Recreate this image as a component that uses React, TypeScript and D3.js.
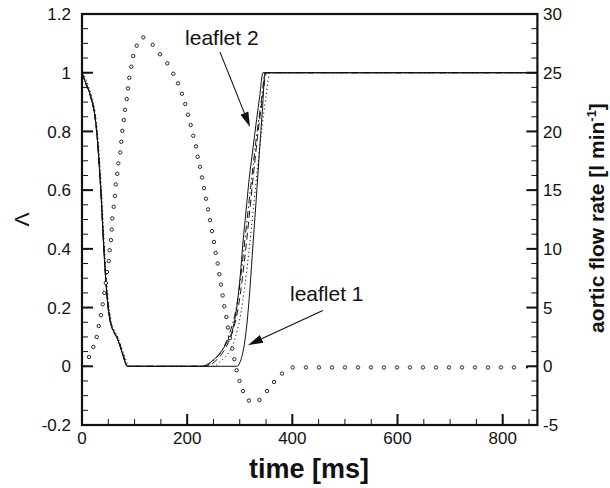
import React from "react";
import * as d3 from "d3";

// ---- axis ticks ----
const leftTicks = [-0.2, 0, 0.2, 0.4, 0.6, 0.8, 1, 1.2];
const leftTickLabels = ["-0.2", "0", "0.2", "0.4", "0.6", "0.8", "1", "1.2"];
const rightTicks = [-5, 0, 5, 10, 15, 20, 25, 30];
const rightTickLabels = ["-5", "0", "5", "10", "15", "20", "25", "30"];
const xTicks = [0, 200, 400, 600, 800];
const xTickLabels = ["0", "200", "400", "600", "800"];

// ---- Lambda curves: [time ms, Lambda] ----
const descentSolid: [number, number][] = [
  [0, 1], [5, 0.975], [12, 0.945], [18, 0.91], [24, 0.86], [29, 0.78], [33, 0.68],
  [37, 0.56], [41, 0.42], [45, 0.3], [49, 0.21], [54, 0.15], [60, 0.12], [67, 0.095],
  [74, 0.06], [80, 0.025], [86, 0],
];
const descentDashed: [number, number][] = [
  [0, 1], [5, 0.97], [12, 0.94], [18, 0.905], [24, 0.855], [29, 0.775], [33, 0.675],
  [37, 0.555], [41, 0.415], [45, 0.3], [49, 0.22], [53, 0.17], [57, 0.13], [62, 0.11],
  [67, 0.1], [74, 0.065], [81, 0.025], [87, 0],
];
const descentDotted: [number, number][] = [
  [0, 1], [7, 0.98], [13, 0.95], [19, 0.915], [25, 0.865], [30, 0.785], [34, 0.69],
  [38, 0.57], [42, 0.43], [46, 0.31], [50, 0.22], [55, 0.16], [61, 0.125], [68, 0.1],
  [75, 0.065], [82, 0.03], [89, 0],
];

const riseLeaflet2: [number, number][] = [
  [228, 0], [245, 0.015], [260, 0.04], [275, 0.08], [287, 0.13], [295, 0.21], [301, 0.31],
  [306, 0.42], [312, 0.53], [318, 0.64], [325, 0.74], [332, 0.84], [338, 0.92], [344, 1],
  [866, 1],
];
const riseLeaflet1: [number, number][] = [
  [295, 0], [300, 0.012], [305, 0.04], [310, 0.09], [315, 0.17], [320, 0.28], [325, 0.41],
  [331, 0.56], [337, 0.72], [343, 0.87], [348, 1], [866, 1],
];
const riseDashed: [number, number][] = [
  [238, 0], [252, 0.015], [265, 0.04], [278, 0.08], [290, 0.14], [298, 0.21], [305, 0.3],
  [312, 0.41], [319, 0.53], [327, 0.67], [335, 0.8], [343, 0.91], [351, 1], [866, 1],
];
const riseDashDot: [number, number][] = [
  [232, 0], [250, 0.02], [265, 0.05], [280, 0.11], [290, 0.17], [298, 0.25], [306, 0.37],
  [314, 0.5], [322, 0.63], [331, 0.77], [340, 0.89], [349, 1], [866, 1],
];
const riseDotted: [number, number][] = [
  [250, 0], [265, 0.02], [280, 0.05], [292, 0.1], [302, 0.18], [310, 0.28], [318, 0.4],
  [326, 0.54], [334, 0.68], [342, 0.81], [350, 0.92], [357, 1], [866, 1],
];

// ---- aortic flow rate symbols: [time ms, l/min] ----
const flowTime = [
  13.3, 21.5, 28.0, 31.8, 36.1, 39.4, 42.4, 45.3, 47.5, 50.8, 52.7, 55.1, 56.5, 57.6, 60.3,
  62.7, 64.1, 67.1, 69.0, 72.8, 74.7, 76.6, 79.3, 81.8, 85.0, 87.5, 89.9, 93.7, 97.5, 104.0,
  116.6, 134.4, 148.3, 162.2, 173.6, 182.5, 190.1, 196.4, 201.6, 206.7, 211.6, 216.8, 220.0,
  224.4, 228.2, 232.0, 235.8, 239.6, 243.4, 247.2, 251.0, 254.2, 258.0, 261.1, 264.3, 267.5,
  270.6, 274.4, 277.6, 281.4, 285.8, 289.6, 294.2, 299.5, 306.1, 317.5, 337.5, 351.8, 365.1,
  380.3, 400.6, 425.9, 450.6, 475.3, 500.1, 524.8, 549.5, 574.2, 599.0, 623.7, 648.4, 673.1,
  697.9, 722.6, 747.3, 772.0, 796.7, 821.5,
];
const flowRate = [
  0.79, 1.64, 2.5, 3.43, 4.35, 5.28, 6.25, 7.1, 8.03, 8.97, 9.88, 10.74, 11.65, 12.59, 13.58,
  14.51, 15.49, 16.39, 17.28, 18.21, 19.12, 20.05, 20.97, 21.84, 22.76, 23.67, 24.57, 25.51,
  26.42, 27.3, 28.01, 27.38, 26.57, 25.8, 24.91, 24.09, 23.21, 22.33, 21.42, 20.54, 19.63,
  18.73, 17.84, 16.99, 16.08, 15.17, 14.27, 13.36, 12.44, 11.51, 10.59, 9.66, 8.75, 7.84,
  6.96, 6.03, 5.11, 4.2, 3.3, 2.39, 1.51, 0.6, -0.34, -1.25, -2.11, -2.92, -2.87, -2.11,
  -1.34, -0.62, -0.1, -0.1, -0.1, -0.1, -0.1, -0.1, -0.1, -0.1, -0.1, -0.1, -0.1, -0.1,
  -0.1, -0.1, -0.1, -0.1, -0.1, -0.1,
];
const flowEnd: [number, number] = [846.2, -0.1];

const W = 610;
const H = 488;
const FONT = "'Liberation Sans', Arial, Helvetica, sans-serif";
const INK = "#111";

export default function App() {
  const x = d3.scaleLinear().domain([0, 866]).range([82, 537.4]);
  const yL = d3.scaleLinear().domain([-0.2, 1.2]).range([425, 14]);
  const yR = d3.scaleLinear().domain([-5, 30]).range([425, 14]);

  const line = d3
    .line<[number, number]>()
    .x((d) => x(d[0]))
    .y((d) => yL(d[1]))
    .curve(d3.curveMonotoneX);

  const curves = [
    { data: [...descentSolid, ...riseLeaflet2], dash: "none" },
    { data: [...descentSolid, ...riseLeaflet1], dash: "none" },
    { data: [...descentDashed, ...riseDashed], dash: "7,4" },
    { data: [...descentSolid, ...riseDashDot], dash: "7,3,1.5,3" },
    { data: [...descentDotted, ...riseDotted], dash: "1.2,2.8" },
  ];

  const leftMinor = d3.range(-0.2, 1.2001, 0.05);
  const rightMinor = d3.range(-5, 30.001, 1.25);
  const xMinor = d3.range(0, 866, 50);

  const [x0, x1] = x.range();
  const yTop = 14;
  const yBot = 425;

  const arrow = (t0: number, l0: number, t1: number, l1: number) => {
    const ax = x(t0), ay = yL(l0), bx = x(t1), by = yL(l1);
    const ang = Math.atan2(by - ay, bx - ax);
    const len = 15, hw = 4.2;
    const cx = bx - len * Math.cos(ang), cy = by - len * Math.sin(ang);
    const px = -Math.sin(ang) * hw, py = Math.cos(ang) * hw;
    return (
      <g>
        <line x1={ax} y1={ay} x2={cx} y2={cy} stroke={INK} strokeWidth={1.1} />
        <polygon
          points={`${bx},${by} ${cx + px},${cy + py} ${cx - px},${cy - py}`}
          fill={INK}
        />
      </g>
    );
  };

  return (
    <svg
      width={W}
      height={H}
      viewBox={`0 0 ${W} ${H}`}
      style={{ position: "absolute", left: 0, top: 0, background: "#fff" }}
      fontFamily={FONT}
    >
      <rect width={W} height={H} fill="#fff" />
      {/* curves */}
      {curves.map((c, i) => (
        <path
          key={i}
          d={line(c.data) || ""}
          fill="none"
          stroke={INK}
          strokeWidth={1}
          strokeDasharray={c.dash}
        />
      ))}
      {/* flow symbols */}
      {flowTime.map((t, i) => (
        <circle
          key={i}
          cx={x(t)}
          cy={yR(flowRate[i])}
          r={1.7}
          fill="#fff"
          stroke={INK}
          strokeWidth={0.9}
        />
      ))}
      <circle cx={x(flowEnd[0])} cy={yR(flowEnd[1])} r={1.1} fill={INK} />

      {/* ticks */}
      {leftMinor.map((v, i) => (
        <line key={"lm" + i} x1={x0} x2={x0 + 6} y1={yL(v)} y2={yL(v)} stroke={INK} strokeWidth={1} />
      ))}
      {leftTicks.map((v, i) => (
        <line key={"lt" + i} x1={x0} x2={x0 + 11} y1={yL(v)} y2={yL(v)} stroke={INK} strokeWidth={2} />
      ))}
      {rightMinor.map((v, i) => (
        <line key={"rm" + i} x1={x1} x2={x1 - 6} y1={yR(v)} y2={yR(v)} stroke={INK} strokeWidth={1} />
      ))}
      {rightTicks.map((v, i) => (
        <line key={"rt" + i} x1={x1} x2={x1 - 11} y1={yR(v)} y2={yR(v)} stroke={INK} strokeWidth={2} />
      ))}
      {xMinor.map((v, i) => (
        <line key={"xm" + i} x1={x(v)} x2={x(v)} y1={yBot} y2={yBot - 6} stroke={INK} strokeWidth={1} />
      ))}
      {xTicks.map((v, i) => (
        <line key={"xt" + i} x1={x(v)} x2={x(v)} y1={yBot} y2={yBot - 11} stroke={INK} strokeWidth={2} />
      ))}

      {/* frame */}
      <rect x={x0} y={yTop} width={x1 - x0} height={yBot - yTop} fill="none" stroke={INK} strokeWidth={2.2} />

      {/* tick labels */}
      {leftTicks.map((v, i) => (
        <text key={"ll" + i} x={71} y={yL(v)} dy="0.36em" textAnchor="end" fontSize={17} fill={INK}>
          {leftTickLabels[i]}
        </text>
      ))}
      {rightTicks.map((v, i) => (
        <text key={"rl" + i} x={543} y={yR(v)} dy="0.36em" textAnchor="start" fontSize={17} fill={INK}>
          {rightTickLabels[i]}
        </text>
      ))}
      {xTicks.map((v, i) => (
        <text key={"xl" + i} x={x(v)} y={444} textAnchor="middle" fontSize={17} fill={INK}>
          {xTickLabels[i]}
        </text>
      ))}

      {/* axis titles */}
      <text x={309} y={478} textAnchor="middle" fontSize={27} fontWeight="bold" fill={INK}>
        time [ms]
      </text>
      <text
        transform={`translate(29,${yL(0.5)}) rotate(-90)`}
        textAnchor="middle"
        fontSize={21}
        fill={INK}
      >
        Λ
      </text>
      <text
        transform={`translate(604,218) rotate(-90)`}
        textAnchor="middle"
        fontSize={21}
        fontWeight="bold"
        fill={INK}
      >
        aortic flow rate [l min
        <tspan dy="-8" fontSize={13}>-1</tspan>
        <tspan dy="8">]</tspan>
      </text>

      {/* annotations */}
      <text x={x(196)} y={yL(1.094)} fontSize={21} fill={INK}>
        leaflet 2
      </text>
      {arrow(262.4, 1.07, 319.5, 0.815)}
      <text x={x(395.5)} y={yL(0.222)} fontSize={21} fill={INK}>
        leaflet 1
      </text>
      {arrow(458, 0.19, 315.6, 0.072)}
    </svg>
  );
}
